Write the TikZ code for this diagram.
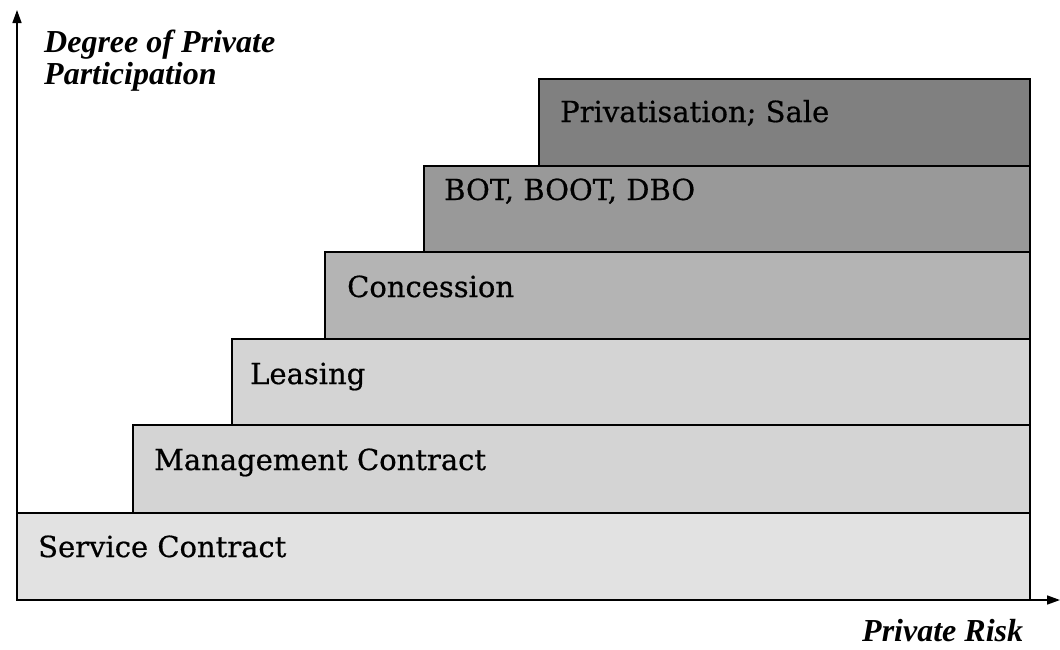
\documentclass[tikz,border=0pt]{standalone}
\usepackage{fontspec}
\setmainfont{Liberation Serif}
\newfontfamily\tierfont[FakeBold=0.6]{DejaVu Serif}
\usetikzlibrary{arrows.meta}
\definecolor{tierA}{HTML}{E2E2E2}
\definecolor{tierB}{HTML}{D4D4D4}
\definecolor{tierC}{HTML}{B4B4B4}
\definecolor{tierD}{HTML}{999999}
\definecolor{tierE}{HTML}{808080}
\begin{document}
\begin{tikzpicture}[x=1pt,y=-1pt,
  bar/.style={draw=black,line width=1.4pt},
  barlabel/.style={anchor=base west,inner sep=0pt,font=\tierfont\fontsize{29}{32}\selectfont},
  axislabel/.style={anchor=base west,inner sep=0pt,font=\fontsize{32}{36}\selectfont\bfseries\itshape},
  axis/.style={line width=1.6pt,-{Triangle[length=13pt,width=9pt]}}]
\useasboundingbox (0,0) rectangle (1060,649);
% stacked tiers, widest at the bottom
\filldraw[bar,fill=tierA] (17,513) rectangle (1030,600);
\filldraw[bar,fill=tierB] (133,425) rectangle (1030,513);
\filldraw[bar,fill=tierB] (232,339) rectangle (1030,425);
\filldraw[bar,fill=tierC] (325,252) rectangle (1030,339);
\filldraw[bar,fill=tierD] (424,166) rectangle (1030,252);
\filldraw[bar,fill=tierE] (539,79) rectangle (1030,166);
\node[barlabel] (service) at (38,557) {Service Contract};
\node[barlabel] (mgmt) at (154,470) {Management Contract};
\node[barlabel] (leasing) at (250,384) {Leasing};
\node[barlabel] (concession) at (347,297) {Concession};
\node[barlabel] (bot) at (444,200) {BOT, BOOT, DBO};
\node[barlabel] (priv) at (560,122) {Privatisation; Sale};
% axes
\coordinate (origin) at (17,600);
\coordinate (ytip) at (17,10);
\coordinate (xtip) at (1060,600);
\draw[axis] (origin) -- (ytip);
\draw[axis] (origin) -- (xtip);
\node[axislabel] (ylab1) at (44,52) {Degree of Private};
\node[axislabel] (ylab2) at (44,84) {Participation};
\node[axislabel] (xlab) at (862,641) {Private Risk};
\end{tikzpicture}
\end{document}
